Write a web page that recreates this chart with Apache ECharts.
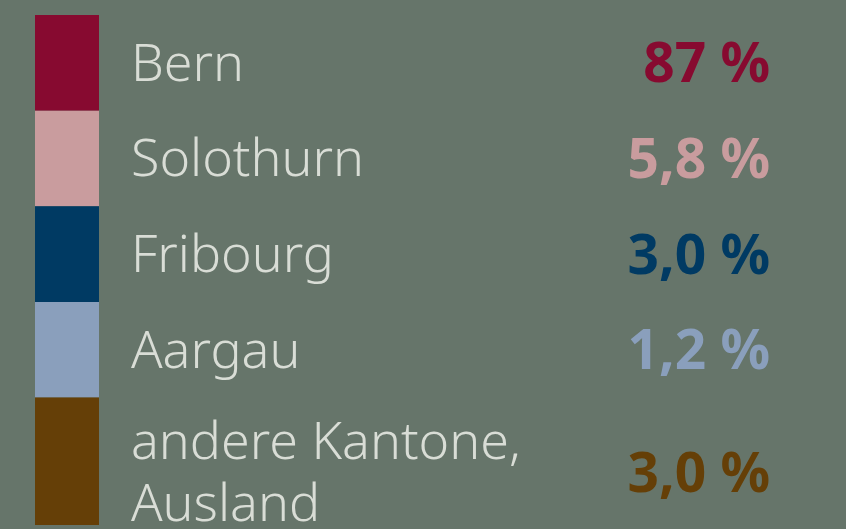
<!DOCTYPE html>
<html>
<head>
<meta charset="utf-8">
<script src="https://cdn.jsdelivr.net/npm/echarts@6/dist/echarts.min.js"></script>
<style>
  html, body { margin: 0; padding: 0; background: #66756a; }
  #chart { width: 846px; height: 529px; }
</style>
</head>
<body>
<div id="chart"></div>
<script>
// Herkunft nach Kanton
const regions = ['Bern', 'Solothurn', 'Fribourg', 'Aargau', 'andere Kantone,\nAusland'];
const shares = [87, 5.8, 3.0, 1.2, 3.0];
const shareLabels = ['87 %', '5,8 %', '3,0 %', '1,2 %', '3,0 %'];
const colors = ['#870a30', '#c99c9e', '#003a63', '#8a9fbc', '#653f07'];

let chart = echarts.init(document.getElementById('chart'), null, { renderer: 'canvas' });

// each block is one row tall, plus a third of a row per extra label line
let rows = [];
let pos = 0;
regions.forEach(function (name, i) {
  let lines = name.split('\n').length;
  let h = 1 + (lines - 1) / 3;
  rows.push([pos, pos + h, shares[i], i, lines]);
  pos += h;
});

let textColor = '#d9ddd6';
let fontFamily = '"Noto Sans", sans-serif';

function renderItem(params, api) {
  let start = api.value(0);
  let end = api.value(1);
  let idx = api.value(3);
  let lines = api.value(4);
  let topLeft = api.coord([0, start]);
  let bottomRight = api.coord([1, end]);
  let rowH = api.size([0, 1])[1];
  let cy = topLeft[1] + rowH / 2 + 3 + (lines - 1) * 27;
  return {
    type: 'group',
    children: [
      {
        type: 'rect',
        shape: {
          x: topLeft[0],
          y: topLeft[1],
          width: bottomRight[0] - topLeft[0],
          height: bottomRight[1] - topLeft[1]
        },
        style: { fill: colors[idx] }
      },
      {
        type: 'text',
        x: topLeft[0] + 96,
        y: cy,
        style: {
          text: regions[idx],
          fill: textColor,
          font: '300 52px ' + fontFamily,
          lineHeight: 62,
          verticalAlign: 'middle',
          align: 'left'
        }
      },
      {
        type: 'text',
        x: topLeft[0] + 735,
        y: cy + 1,
        style: {
          text: shareLabels[idx],
          fill: colors[idx],
          font: 'bold 55px ' + fontFamily,
          verticalAlign: 'middle',
          align: 'right'
        }
      }
    ]
  };
}

let option = {
  backgroundColor: '#66756a',
  animation: false,
  grid: {
    left: 35,
    top: 15,
    width: 64,
    height: 510
  },
  xAxis: {
    type: 'value',
    min: 0,
    max: 1,
    show: false
  },
  yAxis: {
    type: 'value',
    min: 0,
    max: pos,
    inverse: true,
    show: false
  },
  series: [
    {
      type: 'custom',
      renderItem: renderItem,
      clip: false,
      encode: { x: -1, y: [0, 1] },
      data: rows
    }
  ]
};

chart.setOption(option);
</script>
</body>
</html>
